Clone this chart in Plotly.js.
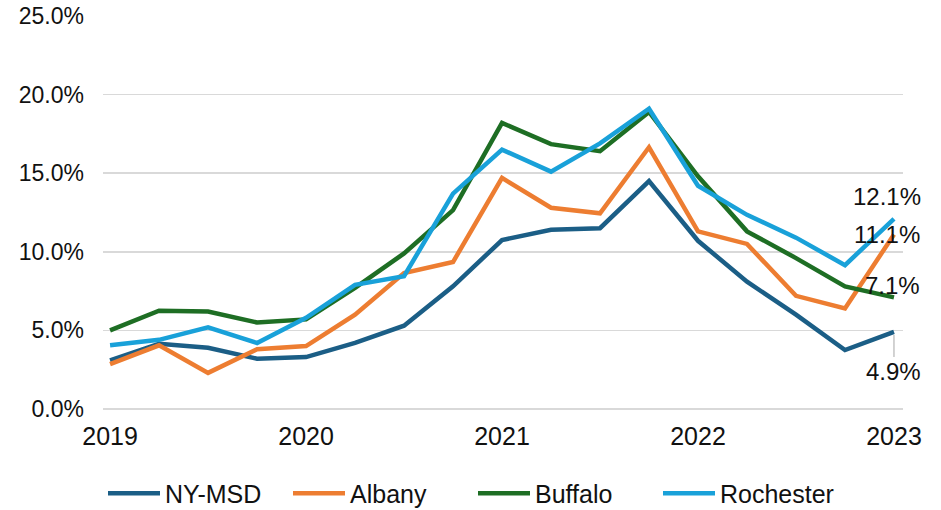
<!DOCTYPE html>
<html>
<head>
<meta charset="utf-8">
<script src="https://cdn.plot.ly/plotly-3.0.1.min.js"></script>
<style>
  html, body { margin: 0; padding: 0; background: #fff; }
  #chart { width: 941px; height: 510px; }
</style>
</head>
<body>
<div id="chart"></div>
<script>
// Quarterly periods 2019 Q1 .. 2023 Q1
var quarters = ['2019-Q1','2019-Q2','2019-Q3','2019-Q4',
                '2020-Q1','2020-Q2','2020-Q3','2020-Q4',
                '2021-Q1','2021-Q2','2021-Q3','2021-Q4',
                '2022-Q1','2022-Q2','2022-Q3','2022-Q4',
                '2023-Q1'];
var yearTicks = [2019, 2020, 2021, 2022, 2023];

var nyMsd     = [3.1, 4.15, 3.9, 3.2, 3.3, 4.2, 5.3, 7.8, 10.75, 11.4, 11.5, 14.5, 10.7, 8.1, 6.0, 3.75, 4.9];
var albany    = [2.85, 4.05, 2.3, 3.8, 4.0, 6.0, 8.65, 9.35, 14.7, 12.8, 12.45, 16.65, 11.3, 10.5, 7.2, 6.4, 11.1];
var buffalo   = [5.0, 6.25, 6.2, 5.5, 5.7, 7.7, 9.9, 12.65, 18.2, 16.85, 16.4, 18.9, 14.8, 11.3, 9.6, 7.8, 7.1];
var rochester = [4.05, 4.4, 5.2, 4.2, 5.8, 7.9, 8.45, 13.7, 16.5, 15.1, 16.9, 19.1, 14.2, 12.35, 10.9, 9.15, 12.1];

var seriesNames  = ['NY-MSD', 'Albany', 'Buffalo', 'Rochester'];
var seriesValues = [nyMsd, albany, buffalo, rochester];
var seriesColors = ['#1B5E86', '#ED7D31', '#1E6E24', '#19A1D9'];

// numeric position of each quarter (year + fraction)
var xs = quarters.map(function (q) {
  var p = q.split('-Q');
  return parseInt(p[0], 10) + (parseInt(p[1], 10) - 1) / 4;
});

var FONT = 'Liberation Sans, Arial, sans-serif';

var traces = seriesNames.map(function (name, i) {
  return {
    type: 'scatter',
    mode: 'lines',
    name: name,
    x: xs,
    y: seriesValues[i],
    line: { color: seriesColors[i], width: 4.5 },
    hoverinfo: 'skip'
  };
});

var lastX = xs[xs.length - 1];
function lastOf(a) { return a[a.length - 1]; }
function pct(v) { return v.toFixed(1) + '%'; }

var annFont = { family: FONT, size: 24, color: '#111' };
var annotations = [
  { x: lastX, y: lastOf(rochester), text: pct(lastOf(rochester)), showarrow: false,
    xshift: -7, yshift: 22, font: annFont },
  { x: lastX, y: lastOf(albany), text: pct(lastOf(albany)), showarrow: false,
    xshift: -7, yshift: 0, font: annFont },
  { x: lastX, y: lastOf(buffalo), text: pct(lastOf(buffalo)), showarrow: false,
    xshift: -1, yshift: 12, font: annFont },
  { x: lastX, y: lastOf(nyMsd), text: pct(lastOf(nyMsd)), showarrow: true,
    arrowhead: 0, arrowwidth: 1, arrowcolor: '#a6a6a6', ax: 0, ay: 40,
    standoff: 3, font: annFont }
];

var layout = {
  width: 941,
  height: 510,
  margin: { l: 103, r: 38, t: 16, b: 101, autoexpand: false },
  paper_bgcolor: '#fff',
  plot_bgcolor: '#fff',
  showlegend: true,
  legend: {
    orientation: 'h',
    x: 0, xanchor: 'left',
    y: -0.215, yanchor: 'middle',
    font: { family: FONT, size: 25, color: '#111' },
    itemwidth: 52,
    entrywidth: 118, entrywidthmode: 'pixels',
    traceorder: 'normal'
  },
  xaxis: {
    range: [2018.964, 2023.046],
    tickmode: 'array',
    tickvals: yearTicks,
    ticktext: yearTicks.map(String),
    showgrid: false,
    zeroline: false,
    showline: false,
    ticks: '',
    ticklabelstandoff: 10,
    tickfont: { family: FONT, size: 25, color: '#111' }
  },
  yaxis: {
    range: [0, 25],
    dtick: 5,
    tick0: 0,
    tickformat: '.1f',
    ticksuffix: '%',
    showgrid: true,
    gridcolor: '#d9d9d9',
    gridwidth: 1.5,
    zeroline: true,
    zerolinecolor: '#d9d9d9',
    zerolinewidth: 1.5,
    showline: false,
    ticks: '',
    ticklabelstandoff: 18,
    tickfont: { family: FONT, size: 23, color: '#111' }
  },
  annotations: annotations,
  hovermode: false
};

Plotly.newPlot('chart', traces, layout, { displayModeBar: false, staticPlot: true });
</script>
</body>
</html>
